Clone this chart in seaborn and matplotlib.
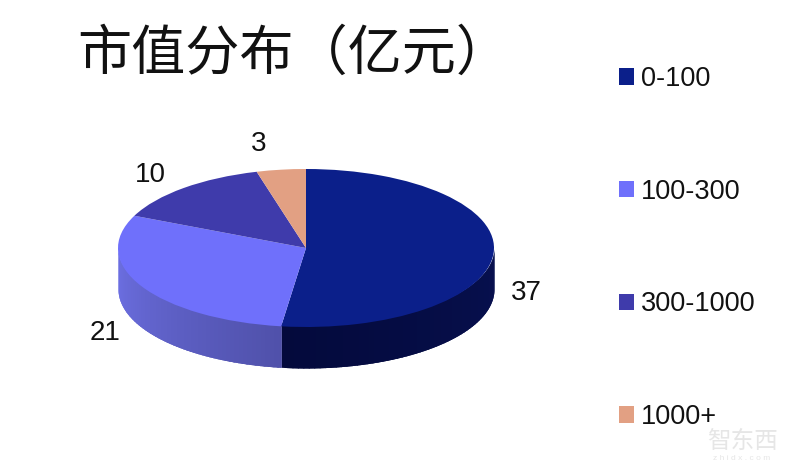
import numpy as np
import matplotlib
matplotlib.use("Agg")
import matplotlib.pyplot as plt
from matplotlib.colors import to_rgb
from matplotlib.patches import Patch
import seaborn as sns

title = "市值分布（亿元）"
categories = ["0-100", "100-300", "300-1000", "1000+"]
values = [37, 21, 10, 3]
top_colors = ["#0b1f8a", "#6f70fb", "#3f3bab", "#e2a083"]
side_start = ["#071050", "#4f50a8", "#2a2778", "#a87860"]
side_end = ["#040a3c", "#6d70e4", "#3f3bab", "#e2a083"]

sns.set_theme(style="white")
plt.rcParams["font.family"] = ["Liberation Sans", "Noto Sans CJK SC", "DejaVu Sans"]

W, H = 800, 468
fig = plt.figure(figsize=(W / 100, H / 100), dpi=100, facecolor="white")
cx, cy, rx, ry = 306, 248, 188, 79
ax = fig.add_axes([(cx - rx) / W, 1 - (cy + ry) / H, 2 * rx / W, 2 * ry / H])
palette = sns.color_palette(top_colors)

depth = 41 / ry
fracs = np.array(values, dtype=float) / sum(values)
ends = 90 - 360 * np.cumsum(fracs)
starts = np.r_[90, ends[:-1]]

# Side wall: visible part of each slice, shaded along its arc
for a0, a1, c0, c1 in zip(starts, ends, side_start, side_end):
    for k in (0, 360):
        lo, hi = max(a1 + k, -180), min(a0 + k, 0)
        if hi <= lo:
            continue
        th = np.linspace(lo, hi, 60)
        rgb0, rgb1 = np.array(to_rgb(c0)), np.array(to_rgb(c1))
        # Painted from the right end of the wall back to the left, each strip
        # overlapping the one already drawn so that no seams show.
        for j in range(len(th) - 2, -1, -1):
            t = (j + 0.5) / (len(th) - 1)
            col = rgb1 * (1 - t) + rgb0 * t
            seg = np.radians(np.linspace(th[j], min(th[j + 1] + 2, hi), 6))
            # The upper edge runs slightly under the top face to avoid a light rim
            ax.fill_between(np.cos(seg), np.sin(seg) - depth, 0.97 * np.sin(seg),
                            color=col, lw=0, clip_on=False, zorder=1)

wedges, _ = ax.pie(values, colors=palette, startangle=90, counterclock=False,
                   radius=1, wedgeprops=dict(linewidth=0))
for w in wedges:
    w.set_clip_on(False)
    w.set_zorder(2)
ax.set_aspect("auto")
ax.set_xlim(-1, 1)
ax.set_ylim(-1, 1)
ax.axis("off")

def px_text(x, y, s, **kw):
    fig.text(x / W, 1 - y / H, s, ha="center", va="center", color="#111111", **kw)

px_text(294, 54, title, fontsize=39, family=["Noto Sans CJK SC", "DejaVu Sans"])
label_pos = [(526, 293), (105, 333), (150, 175), (259, 144)]
for (x, y), v in zip(label_pos, values):
    px_text(x, y, str(v), fontsize=20)

handles = [Patch(facecolor=c, edgecolor="none", label=l) for c, l in zip(palette, categories)]
fig.legend(handles=handles, loc="upper left", bbox_to_anchor=(619 / W, 1 - 66 / H),
           bbox_transform=fig.transFigure, frameon=False, fontsize=19.5,
           handlelength=0.55, handleheight=0.55, handletextpad=0.26,
           labelspacing=3.2, borderpad=0, borderaxespad=0, labelcolor="#111111")

# Faint source watermark
fig.text(742 / W, 1 - 441 / H, "智东西", ha="center", va="center", fontsize=17, color="#e6e6e6",
         family=["Noto Sans CJK SC", "DejaVu Sans"], zorder=5)
fig.text(742 / W, 1 - 458 / H, "z h i d x . c o m", ha="center", va="center", fontsize=6, color="#e6e6e6")

fig.savefig("out.png", dpi=100, facecolor="white")
